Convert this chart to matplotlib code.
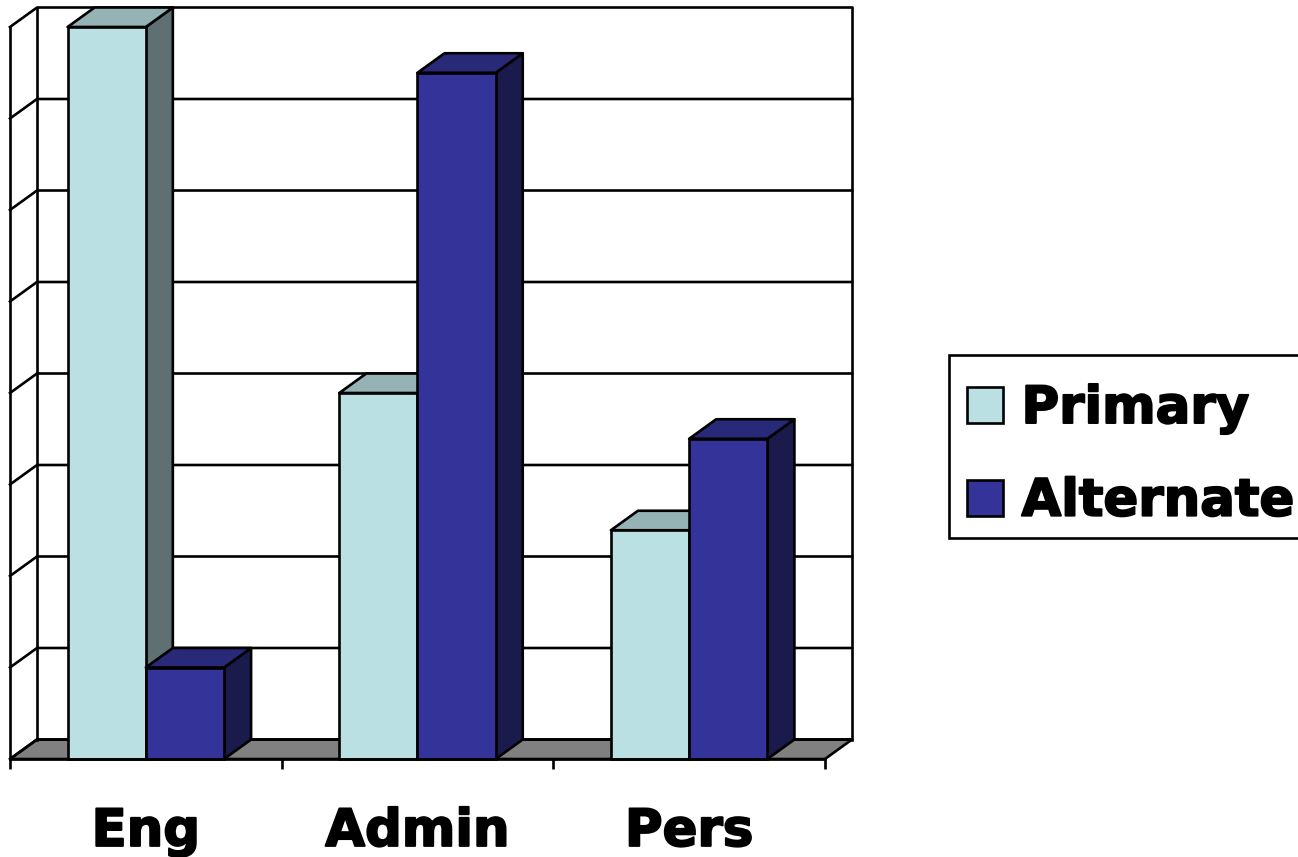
import matplotlib
matplotlib.use("Agg")
import matplotlib.pyplot as plt
from matplotlib.patches import Patch, Polygon, Rectangle
import matplotlib.patheffects as pe

categories = ["Eng", "Admin", "Pers"]
primary = [8.0, 4.0, 2.5]
alternate = [1.0, 7.5, 3.5]
series_names = ["Primary", "Alternate"]
grid_levels = [0, 1, 2, 3, 4, 5, 6, 7, 8]

W, H = 1298, 857
LIGHT, LIGHT_TOP, LIGHT_SIDE = "#BBE0E3", "#95B3B5", "#5E7072"
DARK, DARK_TOP, DARK_SIDE = "#333399", "#29297A", "#1A1A4D"
FLOOR = "#808080"
LW = 1.9
FONT = dict(family="DejaVu Sans", weight="bold", size=37)
HEAVY = [pe.withStroke(linewidth=1.4, foreground="black")]

fig = plt.figure(figsize=(W / 100, H / 100), dpi=100, facecolor="white")
ax = fig.add_axes([10 / W, 1 - 759 / H, 815 / W, 732 / H])
ax.set_xlim(0, 3)
ax.set_ylim(0, 8)
ax.set_facecolor("none")

# Depth of the oblique projection, in data units
DX = 27 / (815 / 3)
DY = 19.5 / (732 / 8)
BAR_W = 0.288
line = dict(color="black", lw=LW, solid_capstyle="projecting", clip_on=False)

# Floor
ax.add_patch(Polygon([(0, 0), (3, 0), (3 + DX, DY), (DX, DY)], closed=True,
                     facecolor=FLOOR, edgecolor="black", lw=LW, clip_on=False, zorder=1))

# Back wall and side wall gridlines
for lv in grid_levels:
    ax.plot([0, DX, 3 + DX], [lv, lv + DY, lv + DY], zorder=1, **line)
ax.plot([0, 0], [0, 8], zorder=1, **line)
ax.plot([DX, DX], [DY, 8 + DY], zorder=1, **line)
ax.plot([3 + DX, 3 + DX], [DY, 8 + DY], zorder=1, **line)


def box(x_left, value, face, top, side, z):
    """Draw one oblique bar: front through ax.bar, then top and side faces."""
    x_right = x_left + BAR_W
    ax.add_patch(Polygon([(x_right, 0), (x_right + DX, DY), (x_right + DX, value + DY), (x_right, value)],
                         closed=True, facecolor=side, edgecolor="black", lw=LW,
                         joinstyle="round", clip_on=False, zorder=z))
    ax.add_patch(Polygon([(x_left, value), (x_left + DX, value + DY), (x_right + DX, value + DY), (x_right, value)],
                         closed=True, facecolor=top, edgecolor="black", lw=LW,
                         joinstyle="round", clip_on=False, zorder=z))
    ax.bar(x_left, value, BAR_W, align="edge", color=face, edgecolor="black",
           lw=LW, clip_on=False, zorder=z + 0.1)


for i in range(len(categories)):
    c = i + 0.5
    box(c - BAR_W, primary[i], LIGHT, LIGHT_TOP, LIGHT_SIDE, 2 + i)
    box(c, alternate[i], DARK, DARK_TOP, DARK_SIDE, 2.5 + i)

# Axis: only the front baseline with outward ticks between categories
for s in ("left", "right", "top"):
    ax.spines[s].set_visible(False)
ax.spines["bottom"].set_linewidth(LW)
ax.spines["bottom"].set_zorder(10)
ax.set_yticks([])
ax.set_xticks([0, 1, 2, 3])
ax.set_xticklabels([])
ax.tick_params(axis="x", which="major", length=7.5, width=LW)
ax.set_xticks([0.5, 1.5, 2.5], minor=True)
ax.set_xticklabels(categories, minor=True, path_effects=HEAVY, **FONT)
ax.tick_params(axis="x", which="minor", length=0, pad=34.5)

# Legend box runs past the right edge of the figure
fig.add_artist(Rectangle((949 / W, 1 - 538 / H), 370 / W, 183 / H, transform=fig.transFigure,
                         facecolor="white", edgecolor="black", lw=LW, zorder=5))
handles = [Patch(facecolor=LIGHT, edgecolor="black", lw=LW),
           Patch(facecolor=DARK, edgecolor="black", lw=LW)]
leg = fig.legend(handles, series_names, loc="upper left",
                 bbox_to_anchor=(967 / W, 1 - 384 / H), bbox_transform=fig.transFigure,
                 prop=dict(family="DejaVu Sans", weight="bold", size=37),
                 frameon=False, borderaxespad=0, borderpad=0, labelspacing=0.83,
                 handlelength=0.7, handleheight=0.7, handletextpad=0.36)
leg.set_zorder(6)
for t in leg.get_texts():
    t.set_path_effects(HEAVY)

fig.savefig("out.png", dpi=100, facecolor="white")
